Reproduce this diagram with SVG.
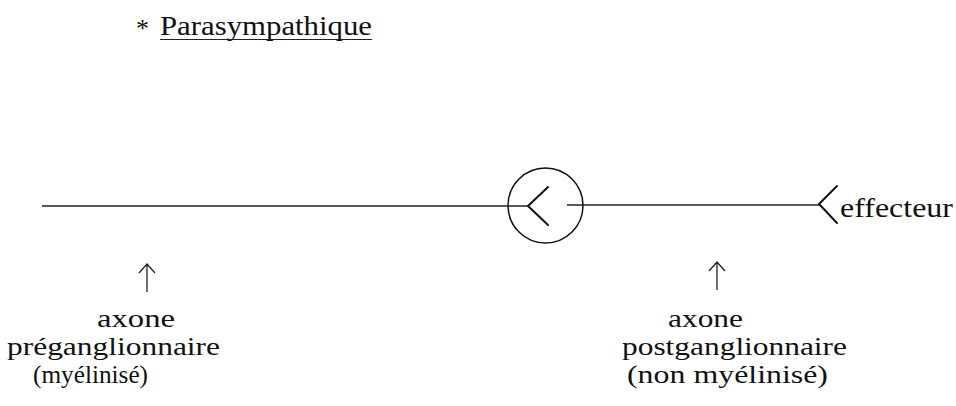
<svg xmlns="http://www.w3.org/2000/svg" width="956" height="406" viewBox="0 0 956 406">
<style>
.t{font-family:"Liberation Serif","Times New Roman",serif;font-size:28px;fill:#111}
.b{font-size:25.5px}
.ln{stroke:#222;stroke-width:1.3;fill:none}
.syn{stroke:#111;stroke-width:2;fill:none;stroke-linecap:round;stroke-linejoin:miter}
</style>
<rect width="956" height="406" fill="#fff"/>
<g id="title">
<text class="t" x="136" y="37" style="font-size:26px">*</text>
<text class="t" x="160" y="35" textLength="212" lengthAdjust="spacingAndGlyphs">Parasympathique</text>
<line x1="160" y1="39.5" x2="372" y2="39.5" stroke="#222" stroke-width="1.2"/>
</g>
<g id="connectors">
<line class="ln" x1="42" y1="206" x2="528" y2="206"/>
<line class="ln" x1="567" y1="205" x2="819" y2="205"/>
<path class="ln" d="M147 292 V264 M139 273 L147 264 L155 273"/>
<path class="ln" d="M717 290 V262 M709 271 L717 262 L725 271"/>
</g>
<g id="ganglion">
<circle cx="545.5" cy="205.5" r="37.5" fill="none" stroke="#111" stroke-width="1.5"/>
<path class="syn" d="M548 187 L528 206 L548 225"/>
</g>
<g id="effecteur">
<path class="syn" d="M837 186 L819 204 L837 223"/>
<text class="t" x="840" y="217" textLength="113" lengthAdjust="spacingAndGlyphs">effecteur</text>
</g>
<g id="pre">
<text class="t b" x="97" y="327" textLength="78" lengthAdjust="spacingAndGlyphs">axone</text>
<text class="t b" x="7" y="355" textLength="213" lengthAdjust="spacingAndGlyphs">préganglionnaire</text>
<text class="t b" x="33" y="383" textLength="115" lengthAdjust="spacingAndGlyphs">(myélinisé)</text>
</g>
<g id="post">
<text class="t b" x="668" y="327" textLength="75" lengthAdjust="spacingAndGlyphs">axone</text>
<text class="t b" x="622" y="355" textLength="225" lengthAdjust="spacingAndGlyphs">postganglionnaire</text>
<text class="t b" x="627" y="383" textLength="201" lengthAdjust="spacingAndGlyphs">(non myélinisé)</text>
</g>
</svg>
